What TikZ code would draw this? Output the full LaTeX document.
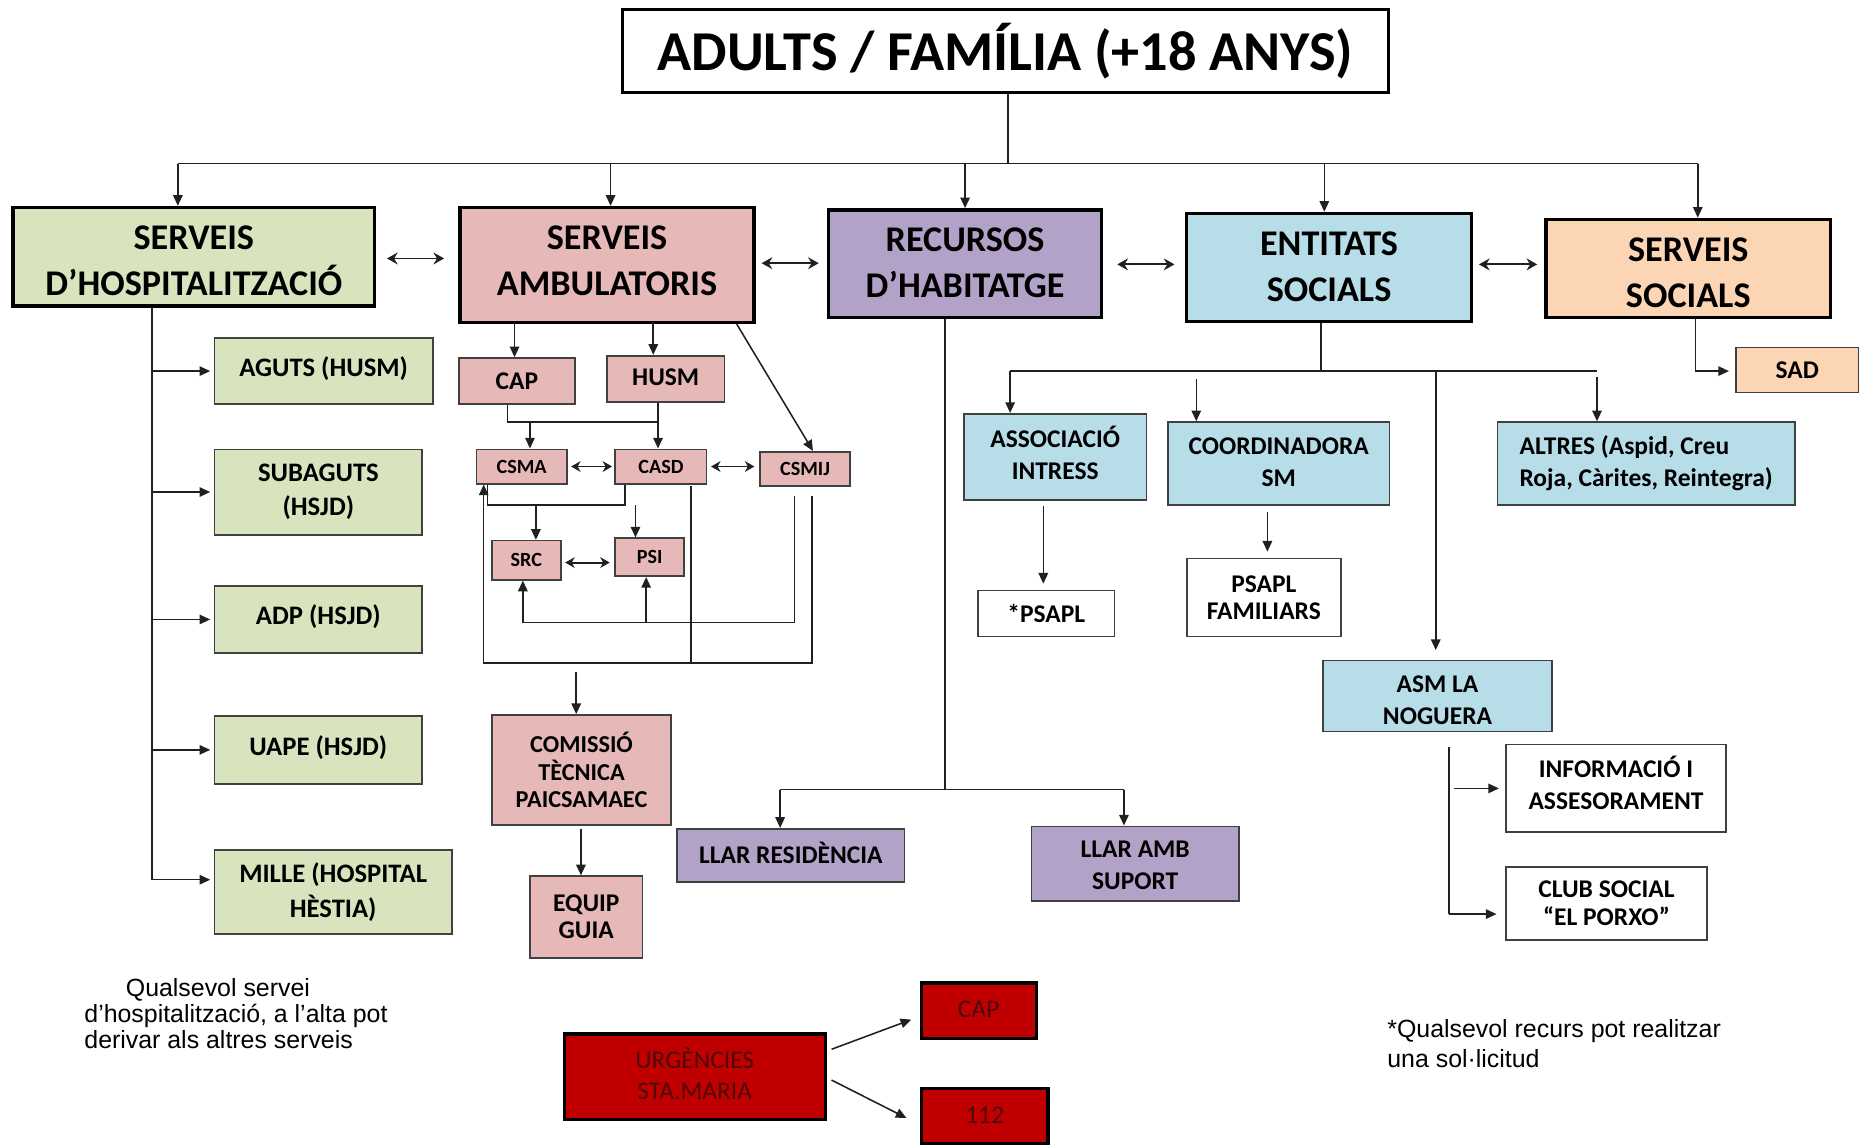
\documentclass[tikz,border=0pt]{standalone}
\usepackage{fontspec}
\setmainfont{Carlito}
\newfontfamily\arialf{Liberation Sans}
\usetikzlibrary{arrows.meta,calc}
\definecolor{cgreen}{HTML}{D7E4BD}
\definecolor{cpink}{HTML}{E6B9B8}
\definecolor{cpurple}{HTML}{B3A2C7}
\definecolor{cblue}{HTML}{B7DEE8}
\definecolor{cpeach}{HTML}{FCD5B5}
\definecolor{cred}{HTML}{C00000}
\definecolor{credtext}{HTML}{4E0808}
\definecolor{cline}{HTML}{202020}
\newcommand\bx[7]{\node[#6, minimum width={(#4-#2)*1pt}, minimum height={(#5-#3)*1pt}] (#1) at ({(#2+#4)/2},{(#3+#5)/2}) {#7};}
\newcommand\twol[3]{\raisebox{#1}[0pt][0pt]{\begin{tabular}{@{}c@{}}#2\\#3\end{tabular}}}
\begin{document}
\begin{tikzpicture}[x=1pt,y=-1pt,
  mainbox/.style={draw=black, line width=2.8pt, inner sep=0pt, align=center, text=black, font=\fontsize{30.5}{39}\selectfont\bfseries},
  subbox/.style={draw=black!75, line width=1.4pt, inner sep=0pt, align=center, text=black, font=\fontsize{21.5}{27}\selectfont\bfseries},
  hsub/.style={subbox, font=\fontsize{22.5}{29}\selectfont\bfseries},
  tinybox/.style={subbox, font=\fontsize{17}{20}\selectfont\bfseries},
  redbox/.style={draw=black, line width=2.8pt, fill=cred, inner sep=0pt, align=center, text=credtext, font=\fontsize{21.5}{26}\selectfont},
  ln/.style={draw=cline, line width=1.3pt},
  arr/.style={ln, -{Triangle[length=9pt,width=8pt]}},
  dbl/.style={ln, line width=1.5pt, {Stealth[length=9pt,width=10pt,inset=3pt]}-{Stealth[length=9pt,width=10pt,inset=3pt]}},
  dbls/.style={ln, line width=1.6pt, {Stealth[length=8pt,width=9pt,inset=2.5pt]}-{Stealth[length=8pt,width=9pt,inset=2.5pt]}},
  note/.style={inner sep=0pt, anchor=north west, align=left, text=black, font=\arialf\fontsize{21}{22}\selectfont}
]
\fill[white] (0,0) rectangle (1568,965);
\useasboundingbox (0,0) rectangle (1568,965);

% ---------- top ----------
\bx{title}{525}{8}{1171}{78}{mainbox,fill=white,font=\fontsize{47.5}{50}\selectfont\bfseries}{ADULTS / FAMÍLIA (+18 ANYS)}

\bx{hosp}{11}{175}{316}{258}{mainbox,fill=cgreen}{\twol{-11.6pt}{SERVEIS}{D’HOSPITALITZACIÓ}}
\bx{amb}{388}{175}{636}{272}{mainbox,fill=cpink}{\twol{-4.6pt}{SERVEIS}{AMBULATORIS}}
\bx{hab}{699}{177}{929}{268}{mainbox,fill=cpurple}{\twol{-7.6pt}{RECURSOS}{D’HABITATGE}}
\bx{ent}{1001}{180}{1241}{271}{mainbox,fill=cblue}{\twol{-7.6pt}{ENTITATS}{SOCIALS}}
\bx{ss}{1304}{185}{1544}{268}{mainbox,fill=cpeach}{\twol{-12.1pt}{SERVEIS}{SOCIALS}}

\coordinate (busC) at (850,138);
\coordinate (busL) at (150,138);
\coordinate (busR) at (1432,138);
\coordinate (bus2) at (515,138);
\coordinate (bus3) at (814,138);
\coordinate (bus4) at (1117,138);
\draw[ln] (title.south -| busC) -- (busC);
\draw[ln] (busL) -- (busR);
\draw[arr] (busL) -- (busL |- hosp.north);
\draw[arr] (bus2) -- (bus2 |- amb.north);
\draw[arr] (bus3) -- (bus3 |- hab.north);
\draw[arr] (bus4) -- (bus4 |- ent.north);
\draw[arr] (busR) -- (busR |- ss.north);

\draw[dbl] ($(hosp.east)+(9,1.5)$) -- ($(hosp.east -| amb.west)+(-12,1.5)$);
\draw[dbl] ($(amb.east)+(5,-1.5)$) -- ($(amb.east -| hab.west)+(-7,-1.5)$);
\draw[dbl] ($(hab.east)+(12,0.5)$) -- ($(hab.east -| ent.west)+(-9,0.5)$);
\draw[dbl] ($(ent.east)+(5,-2.5)$) -- ($(ent.east -| ss.west)+(-6,-2.5)$);

% ---------- hospitalitzacio ----------
\bx{aguts}{181}{285}{365}{341}{hsub,fill=cgreen}{\raisebox{8pt}{AGUTS (HUSM)}}
\bx{subag}{181}{379}{356}{451}{hsub,fill=cgreen}{SUBAGUTS\\(HSJD)}
\bx{adp}{181}{494}{356}{551}{hsub,fill=cgreen}{\raisebox{8pt}{ADP (HSJD)}}
\bx{uape}{181}{604}{356}{661}{hsub,fill=cgreen}{\raisebox{8pt}{UAPE (HSJD)}}
\bx{mille}{181}{717}{381}{788}{hsub,fill=cgreen}{MILLE (HOSPITAL\\HÈSTIA)}

\coordinate (hv) at (128,742);
\draw[ln] (hosp.south -| hv) -- (hv);
\draw[arr, shorten >=3pt] (hv |- aguts.west) -- (aguts.west);
\draw[arr, shorten >=3pt] (hv |- subag.west) -- (subag.west);
\draw[arr, shorten >=3pt] (hv |- adp.west) -- (adp.west);
\draw[arr, shorten >=3pt] (hv |- uape.west) -- (uape.west);
\draw[arr, shorten >=3pt] (hv) -- (hv -| mille.west);

% ---------- ambulatoris ----------
\bx{cap}{387}{302}{485}{341}{subbox,fill=cpink}{CAP}
\bx{husm}{512}{300}{611}{339}{subbox,fill=cpink}{\raisebox{2pt}{HUSM}}
\bx{csma}{402}{379}{478}{408}{tinybox,fill=cpink}{CSMA}
\bx{casd}{519}{379}{596}{408}{tinybox,fill=cpink}{CASD}
\bx{csmij}{641}{381}{717}{410}{tinybox,fill=cpink}{CSMIJ}
\bx{src}{415}{456}{473}{489}{tinybox,fill=cpink}{SRC}
\bx{psi}{519}{454}{577}{486}{tinybox,fill=cpink}{PSI}
\bx{com}{415}{603}{566}{696}{subbox,fill=cpink,font=\fontsize{20.5}{23}\selectfont\bfseries}{COMISSIÓ\\TÈCNICA\\PAICSAMAEC}
\bx{equip}{447}{739}{542}{808}{subbox,fill=cpink,font=\fontsize{21.5}{23}\selectfont\bfseries}{EQUIP\\GUIA}

\coordinate (capA) at (434,272);
\coordinate (husmA) at (551,272);
\draw[arr] (capA) -- (capA |- cap.north);
\draw[arr] (husmA) -- (husmA |- husm.north);
\draw[arr] ($(amb.south east)+(-16,0)$) -- ($(csmij.north east)+(-32,0)$);

\coordinate (jA) at (428,356);
\coordinate (jB) at (555,356);
\coordinate (jC) at (447,356);
\draw[ln] (cap.south -| jA) -- (jA) -- (jB);
\draw[arr] (husm.south -| jB) -- (casd.north -| jB);
\draw[arr] (jC) -- (jC |- csma.north);

\draw[dbls, shorten <=3pt, shorten >=2pt] (csma.east) -- (casd.west |- csma.east);
\draw[dbls, shorten <=3pt, shorten >=4pt] (casd.east) -- (csmij.west |- casd.east);

\coordinate (k1) at (411,426);
\coordinate (k2) at (527,426);
\coordinate (k3) at (452,426);
\coordinate (k4) at (536,426);
\draw[ln] (csma.south -| k1) -- (k1) -- (k2) -- (casd.south -| k2);
\draw[arr] (k3) -- (k3 |- src.north);
\draw[arr] (k4) -- (k4 |- psi.north);
\draw[dbls, shorten <=3pt, shorten >=4pt] ($(src.east)+(0,2)$) -- ($(src.east -| psi.west)+(0,2)$);

\coordinate (m1t) at (670,418);
\coordinate (m2) at (441,525);
\coordinate (m3) at (545,525);
\draw[arr] (m1t) |- (m2) -- (m2 |- src.south);
\draw[arr] (m3) -- (m3 |- psi.south);

\coordinate (n1t) at (685,418);
\coordinate (n2) at (408,559);
\coordinate (n3t) at (583,410);
\draw[arr] (n1t) |- (n2) -- (n2 |- csma.south);
\draw[ln] (n3t) -- (n3t |- n2);

\coordinate (p1) at (486,567);
\draw[arr] (p1) -- (p1 |- com.north);
\coordinate (p2) at (490,699);
\draw[arr] (p2) -- (p2 |- equip.north);

% ---------- habitatge ----------
\bx{llarres}{571}{699}{763}{744}{subbox,fill=cpurple}{\raisebox{4pt}{LLAR RESIDÈNCIA}}
\bx{llaramb}{870}{697}{1045}{760}{subbox,fill=cpurple}{\twol{-8pt}{LLAR AMB}{SUPORT}}
\coordinate (h1) at (797,666);
\coordinate (h2) at (658,666);
\coordinate (h3) at (948,666);
\draw[ln] (hab.south -| h1) -- (h1);
\draw[ln] (h2) -- (h3);
\draw[arr] (h2) -- (h2 |- llarres.north);
\draw[arr] (h3) -- (h3 |- llaramb.north);

% ---------- entitats ----------
\bx{assoc}{813}{349}{967}{422}{subbox,fill=cblue}{\twol{-5.2pt}{ASSOCIACIÓ}{INTRESS}}
\bx{coord}{985}{356}{1172}{426}{subbox,fill=cblue}{\twol{-5.9pt}{COORDINADORA}{SM}}
\bx{altres}{1263}{356}{1514}{426}{subbox,fill=cblue,align=left}{ALTRES (Aspid, Creu\\Roja, Càrites, Reintegra)}
\bx{psapl}{825}{498}{940}{537}{subbox,fill=white}{*PSAPL}
\bx{psaplf}{1001}{471}{1131}{537}{subbox,fill=white,font=\fontsize{21.5}{23}\selectfont\bfseries}{PSAPL\\FAMILIARS}
\bx{asm}{1116}{557}{1309}{617}{subbox,fill=cblue}{\twol{-10.4pt}{ASM LA}{NOGUERA}}
\bx{info}{1270}{628}{1456}{702}{subbox,fill=white}{\twol{-4.4pt}{INFORMACIÓ I}{ASSESORAMENT}}
\bx{club}{1270}{731}{1440}{793}{subbox,fill=white,font=\fontsize{21.5}{24}\selectfont\bfseries}{CLUB SOCIAL\\“EL PORXO”}

\coordinate (e1) at (1114,313);
\coordinate (e2) at (852,313);
\coordinate (e3) at (1347,313);
\coordinate (e4) at (1009,320);
\coordinate (e5) at (1347,318);
\coordinate (e6) at (1211,313);
\draw[ln] (ent.south -| e1) -- (e1);
\draw[ln] (e2) -- (e3);
\draw[arr] (e2) -- (e2 |- assoc.north);
\draw[arr] (e4) -- (e4 |- coord.north);
\draw[arr] (e5) -- (e5 |- altres.north);
\draw[arr, shorten >=8pt] (e6) -- (e6 |- asm.north);

\coordinate (q1) at (880,427);
\coordinate (q2) at (1069,432);
\draw[arr, shorten >=5pt] (q1) -- (q1 |- psapl.north);
\draw[arr, shorten >=5pt] (q2) -- (q2 |- psaplf.north);

\coordinate (r1) at (1222,630);
\coordinate (r2) at (1222,771);
\coordinate (r3) at (1226,665);
\draw[ln] (r1) -- (r2);
\draw[arr, shorten >=7pt] (r2) -- (r2 -| club.west);
\draw[arr, shorten >=5pt] (r3) -- (r3 -| info.west);

% ---------- serveis socials ----------
\bx{sad}{1464}{293}{1568}{331}{subbox,fill=cpeach}{SAD}
\coordinate (s1) at (1430,313);
\draw[arr, shorten >=5pt] (ss.south -| s1) -- (s1) -- (s1 -| sad.west);

% ---------- urgencies ----------
\bx{urg}{476}{872}{696}{944}{redbox}{\twol{-6pt}{URGÈNCIES}{STA.MARIA}}
\bx{cap2}{777}{829}{874}{876}{redbox}{\raisebox{2pt}{CAP}}
\bx{n112}{777}{918}{884}{965}{redbox}{\raisebox{1pt}{112}}
\draw[arr] ($(urg.east)+(4,-23)$) -- ($(cap2.west)+(-7,7.5)$);
\draw[arr] ($(urg.east)+(4,3)$) -- ($(n112.west)+(-11,1.5)$);

% ---------- notes ----------
\node[note] (note1) at (71,825) {\hspace*{35pt}Qualsevol servei\\d’hospitalització, a l’alta pot\\derivar als altres serveis};
\node[note, font=\arialf\fontsize{21}{25}\selectfont] (note2) at (1170,860) {*Qualsevol recurs pot realitzar\\una sol·licitud};
\end{tikzpicture}
\end{document}
